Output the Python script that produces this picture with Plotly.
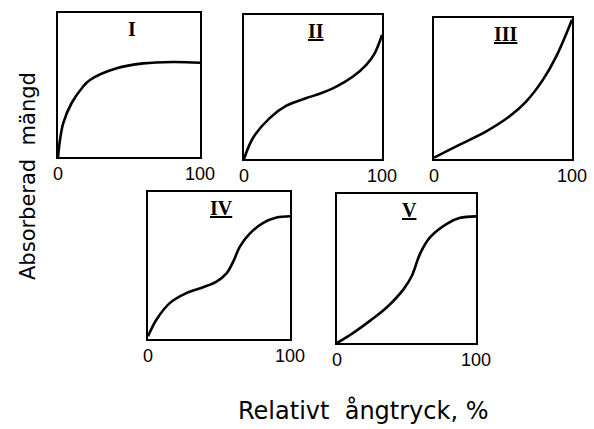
import plotly.graph_objects as go

# Relative vapour pressure (%) and absorbed amount (% of panel height) for the
# five classic isotherm types
x_I = [0, 1.4, 3.7, 9.6, 17.6, 22.5, 41.3, 60, 81, 100]
y_I = [0, 11.8, 23.6, 37.5, 48.8, 53.5, 61.6, 65, 66, 65.5]

x_II = [0, 6.5, 18.6, 30.7, 45.2, 54.8, 66.9, 79, 88.6, 94.7, 100]
y_II = [0, 14.6, 28.4, 37, 42.3, 45.3, 50.3, 57.3, 65.4, 73.4, 86.1]

x_III = [0, 18.6, 37.9, 54.8, 66.9, 79, 88.6, 100]
y_III = [1, 10.2, 19.6, 30.3, 40.9, 56.3, 72.8, 98.8]

x_IV = [0, 5.9, 15.3, 27, 38.8, 48.2, 55.3, 60, 64.7, 71.8, 81.2, 90.6, 100]
y_IV = [1.8, 13.1, 24.4, 31.2, 35.2, 39.1, 44.7, 52.6, 62.8, 71.8, 79, 82.6, 83.5]

x_V = [0, 12, 23.9, 35.9, 47.8, 53.8, 59.8, 67, 79, 88.5, 100]
y_V = [0, 7, 15, 24, 36, 45, 60, 71, 80, 84, 85]

panel_labels = ["I", "<u>II</u>", "<u>III</u>", "<u>IV</u>", "<u>V</u>"]
tick_vals = [0, 100]
tick_text = ["0", "100"]

series = [(x_I, y_I), (x_II, y_II), (x_III, y_III), (x_IV, y_IV), (x_V, y_V)]

W, H = 594, 429
# panel boxes in pixels: left, right, top, bottom
boxes = [
    (58, 200, 13, 157),
    (244, 382, 15, 159),
    (434, 572, 18, 159),
    (148, 290, 192, 339),
    (337, 476, 194, 343),
]

fig = go.Figure()
axis_font = dict(family="Liberation Sans", size=18, color="black")

for i, ((xs, ys), (l, r, t, b)) in enumerate(zip(series, boxes)):
    n = "" if i == 0 else str(i + 1)
    fig.add_trace(go.Scatter(
        x=xs, y=ys, mode="lines",
        line=dict(color="black", width=2.6, shape="spline", smoothing=1.0),
        xaxis="x" + n, yaxis="y" + n, showlegend=False, hoverinfo="skip",
    ))
    fig.update_layout(**{
        "xaxis" + n: dict(
            domain=[l / W, r / W], range=[0, 100], anchor="y" + n,
            showline=True, mirror=True, linecolor="black", linewidth=1.6,
            showgrid=False, zeroline=False, ticks="", automargin=False,
            tickvals=tick_vals, ticktext=tick_text, tickfont=axis_font,
            ticklabelstandoff=0, fixedrange=True,
        ),
        "yaxis" + n: dict(
            domain=[1 - b / H, 1 - t / H], range=[0, 100], anchor="x" + n,
            showline=True, mirror=True, linecolor="black", linewidth=1.6,
            showgrid=False, zeroline=False, showticklabels=False, ticks="",
            automargin=False, fixedrange=True,
        ),
    })
    fig.add_annotation(
        text="<b>" + panel_labels[i] + "</b>",
        xref="x" + n + " domain", yref="y" + n + " domain",
        x=0.52, y=0.89, xanchor="center", yanchor="middle", showarrow=False,
        font=dict(family="Liberation Serif", size=20, color="black"),
    )

fig.add_annotation(
    text="Absorberad  mängd", xref="paper", yref="paper",
    x=28 / W, y=1 - 176 / H, textangle=-90, showarrow=False,
    xanchor="center", yanchor="middle",
    font=dict(family="DejaVu Sans", size=21, color="black"),
)
fig.add_annotation(
    text="Relativt  ångtryck, %", xref="paper", yref="paper",
    x=363 / W, y=1 - 410 / H, showarrow=False,
    xanchor="center", yanchor="middle",
    font=dict(family="DejaVu Sans", size=24, color="black"),
)

fig.update_layout(
    width=W, height=H, margin=dict(l=0, r=0, t=0, b=0),
    paper_bgcolor="white", plot_bgcolor="white", template="none",
)

fig.write_html("out.html", config={"displayModeBar": False})
